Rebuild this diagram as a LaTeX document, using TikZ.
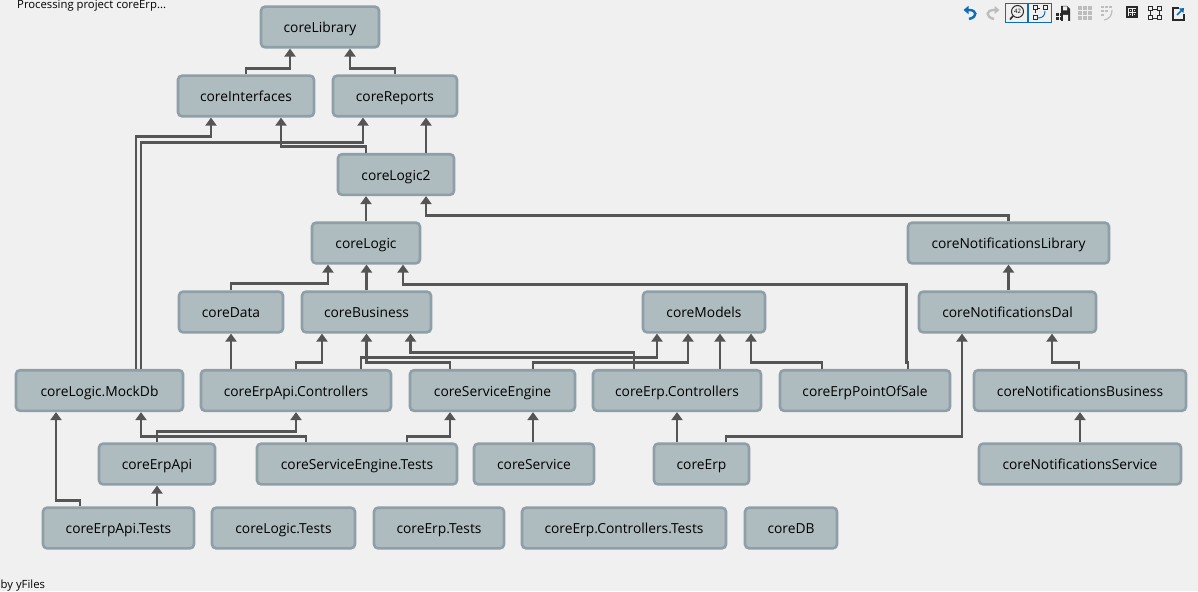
\documentclass[tikz,border=0pt]{standalone}
\usepackage{fontspec}
\setmainfont{Open Sans}
\usetikzlibrary{arrows.meta,positioning}
\definecolor{pagebg}{HTML}{F0F0F0}
\definecolor{projfill}{HTML}{AEBBBF}
\definecolor{projline}{HTML}{8F9FA7}
\definecolor{depline}{HTML}{555555}
\definecolor{toolblue}{HTML}{0E6CB8}
\definecolor{toolgray}{HTML}{BDBDBD}
\definecolor{tooldark}{HTML}{2A2A2A}

\begin{document}
\begin{tikzpicture}[x=1pt,y=-1pt,>={Triangle[width=11pt,length=8pt]},font=\fontsize{13.8}{16}\selectfont]
	\tikzstyle{proj}=[draw=projline,fill=projfill,line width=2.6pt,rounded corners=4pt,minimum height=40.6pt,inner sep=0pt,text height=11.5pt,text depth=0pt,text=black]
	\tikzstyle{dep}=[->,draw=depline,line width=2.9pt]
	\tikzstyle{note}=[anchor=base west,inner sep=0pt,font=\fontsize{11.3}{13}\selectfont,text=black]
	\tikzstyle{tool}=[line width=1.4pt,draw=tooldark]

	\path[use as bounding box,fill=pagebg] (0,0) rectangle (1198,591);
	\clip (0,0) rectangle (1198,591);

	\node[note] (status) at (17,8.5) {Processing project coreErp...};
	\node[note] (yfiles) at (0.5,588) {by yFiles};

	\node[proj,minimum width=118pt] (lib)   at (320,27)    {coreLibrary};
	\node[proj,minimum width=136pt] (ifc)   at (246,96)    {coreInterfaces};
	\node[proj,minimum width=124pt] (rep)   at (395,96)    {coreReports};
	\node[proj,minimum width=116pt] (l2)    at (396,174.5) {coreLogic2};
	\node[proj,minimum width=108pt] (logic) at (366,243)   {coreLogic};
	\node[proj,minimum width=201pt] (nlib)  at (1008.5,243) {coreNotificationsLibrary};
	\node[proj,minimum width=104pt] (data)  at (231,312)   {coreData};
	\node[proj,minimum width=129pt] (bus)   at (366.5,312) {coreBusiness};
	\node[proj,minimum width=122pt] (mod)   at (704,312)   {coreModels};
	\node[proj,minimum width=177pt] (ndal)  at (1007.5,312) {coreNotificationsDal};
	\node[proj,minimum width=167pt] (mock)  at (99.5,390.5) {coreLogic.MockDb};
	\node[proj,minimum width=190pt] (apic)  at (296,390.5) {coreErpApi.Controllers};
	\node[proj,minimum width=165pt] (se)    at (492.5,390.5) {coreServiceEngine};
	\node[proj,minimum width=168pt] (ec)    at (677,390.5) {coreErp.Controllers};
	\node[proj,minimum width=170pt] (pos)   at (865,390.5) {coreErpPointOfSale};
	\node[proj,minimum width=212pt] (nbus)  at (1080,390.5) {coreNotificationsBusiness};
	\node[proj,minimum width=116pt] (api)   at (157,464)   {coreErpApi};
	\node[proj,minimum width=200pt] (setst) at (357,464)   {coreServiceEngine.Tests};
	\node[proj,minimum width=120pt] (svc)   at (534,464)   {coreService};
	\node[proj,minimum width=95pt]  (erp)   at (701.5,464) {coreErp};
	\node[proj,minimum width=202pt] (nsvc)  at (1080,464)  {coreNotificationsService};
	\node[proj,minimum width=151pt] (apit)  at (118.5,528) {coreErpApi.Tests};
	\node[proj,minimum width=143pt] (logt)  at (283.5,528) {coreLogic.Tests};
	\node[proj,minimum width=130pt] (erpt)  at (439,528)   {coreErp.Tests};
	\node[proj,minimum width=204pt] (ect)   at (624,528)   {coreErp.Controllers.Tests};
	\node[proj,minimum width=92pt]  (db)    at (791,528)   {coreDB};

	\draw[dep] (ifc.north) -- ++(0,-6) -| ([xshift=-30]lib.south);
	\draw[dep] (rep.north) -- ++(0,-6) -| ([xshift=30]lib.south);
	\draw[dep] ([xshift=-30]l2.north) -- ++(0,-6) -| ([xshift=35]ifc.south);
	\draw[dep] ([xshift=30]l2.north) -- ([xshift=31]rep.south);
	\draw[dep] ([xshift=36.5]mock.north) -- ++(0,-232) -| ([xshift=-35]ifc.south);
	\draw[dep] ([xshift=41.5]mock.north) -- ++(0,-226) -| ([xshift=-32]rep.south);
	\draw[dep] (logic.north) -- ([xshift=-30]l2.south);
	\draw[dep] (nlib.north) -- ++(0,-6) -| ([xshift=30]l2.south);
	\draw[dep] ([xshift=1]ndal.north) -- (nlib.south);
	\draw[dep] (data.north) -- ++(0,-7) -| ([xshift=-38]logic.south);
	\draw[dep] (bus.north) -- ([xshift=.5]logic.south);
	\draw[dep] ([xshift=43]pos.north) -- ++(0,-6) -- ++(-1.5,0) -- ++(0,-78) -| ([xshift=37]logic.south);
	\draw[dep] ([xshift=-1]nbus.north) -- ++(0,-6) -| ([xshift=44.5]ndal.south);
	\draw[dep] ([xshift=-65]apic.north) -- (data.south);
	\draw[dep] (apic.north) -- ++(0,-6) -| ([xshift=-44.5]bus.south);
	\draw[dep] ([xshift=65]apic.north) -- ++(0,-11) -| ([xshift=-47]mod.south);
	\draw[dep] ([xshift=-42.5]se.north) -- ++(0,-6) -| (bus.south);
	\draw[dep] ([xshift=40.5]se.north) -- ++(0,-6) -| ([xshift=-16]mod.south);
	\draw[dep] ([xshift=-43]ec.north) -- ++(0,-16) -| ([xshift=44]bus.south);
	\draw[dep] ([xshift=43]ec.north) -- ([xshift=16]mod.south);
	\draw[dep] ([xshift=-43]pos.north) -- ++(0,-6) -| ([xshift=47]mod.south);
	\draw[dep] ([xshift=-51]setst.north) -- ++(0,-6) -| ([xshift=41.5]mock.south);
	\draw[dep] (api.north) -- ++(0,-11) -| (apic.south);
	\draw[dep] ([xshift=50]setst.north) -- ++(0,-6) -| ([xshift=-42.5]se.south);
	\draw[dep] ([xshift=-1]svc.north) -- ([xshift=40.5]se.south);
	\draw[dep] ([xshift=-24.5]erp.north) -- (ec.south);
	\draw[dep] ([xshift=24.5]erp.north) -- ++(0,-6) -| ([xshift=-45.5]ndal.south);
	\draw[dep] (nsvc.north) -- (nbus.south);
	\draw[dep] ([xshift=-38.5]apit.north) -- ++(0,-6) -| ([xshift=-43.5]mock.south);
	\draw[dep] ([xshift=38.5]apit.north) -- (api.south);

	\draw[toolblue,line width=2.4pt,-{Triangle[width=8pt,length=5pt]}] (969,19) .. controls (978,17) and (977,10) .. (969,10) -- (963.5,10);
	\draw[toolgray,line width=2.4pt,-{Triangle[width=8pt,length=5pt]}] (994,19) .. controls (985,17) and (986,10) .. (994,10) -- (999.5,10);
	\draw[toolblue,line width=1pt] (1005.5,3.5) rectangle (1027.5,22.5) (1028,3.5) rectangle (1051,22.5);
	\draw[tool,line width=1pt] (1017.5,11.5) circle (6);
	\draw[tool,line width=1.6pt] (1013,16) -- (1010,19.5);
	\node[inner sep=0pt,font=\fontsize{6}{6}\selectfont] (zoomval) at (1017.5,11.5) {42};
	\foreach \ix/\iy in {1035/8,1045/8,1035/18}
		\draw[tool,line width=1pt] (\ix-2,\iy-2) rectangle (\ix+2,\iy+2);
	\draw[tool,line width=.8pt,dashed] (1035,10) -- (1035,16) (1037,8) -- (1043,8);
	\draw[toolblue,line width=1pt] (1045,11) .. controls (1045,16) and (1042,18) .. (1038,18);
	\fill[tooldark] (1061,6) -- (1067,6) -- (1070,9) -- (1070,21) -- (1061,21) -- cycle;
	\fill[pagebg] (1063,6.5) rectangle (1067,10.5) (1063,15) rectangle (1068,21);
	\foreach \ix in {1055.5,1059.5}
		\foreach \iy in {13.5,17.5}
			\fill[tooldark] (\ix,\iy) rectangle ++(3,3);
	\foreach \ix in {1078,1083,1088}
		\foreach \iy in {6,11,16}
			\fill[toolgray] (\ix,\iy) rectangle ++(4,4);
	\foreach \ix/\iy in {1101/6,1105/6,1109/6,1101/10,1105/10,1101/14}
		\fill[toolgray] (\ix,\iy) rectangle ++(2.5,2.5);
	\draw[toolgray,line width=1.2pt] (1112,10) .. controls (1112,16) and (1109,19) .. (1104,20);
	\draw[tool,line width=1.2pt] (1127,7) rectangle (1137,17);
	\foreach \ix in {1129,1133}
		\foreach \iy in {9.5,13}
			\draw[tooldark,line width=.6pt] (\ix,\iy) rectangle ++(2.2,2);
	\foreach \ix in {1148,1157}
		\foreach \iy in {7,16}
			\draw[tool,line width=1pt] (\ix,\iy) rectangle ++(4,4);
	\draw[tool,line width=.8pt] (1152,9) -- (1157,9) (1152,18) -- (1157,18) (1150,11) -- (1150,16) (1159,11) -- (1159,16);
	\draw[tool,line width=1.8pt] (1179,8) -- (1173,8) -- (1173,20) -- (1184,20) -- (1184,14);
	\draw[toolblue,line width=1.6pt,-{Triangle[width=6pt,length=4pt]}] (1177,15) -- (1184,8);
\end{tikzpicture}
\end{document}
